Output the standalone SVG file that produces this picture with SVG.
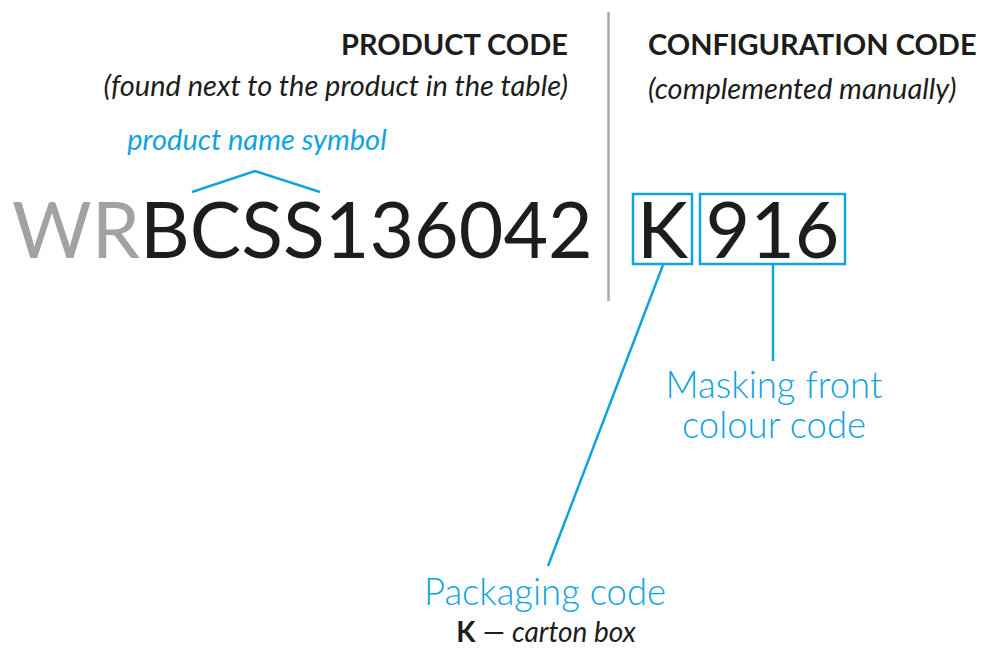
<svg xmlns="http://www.w3.org/2000/svg" width="982" height="649" viewBox="0 0 982 649">
<style>
text{font-family:Lato,"Open Sans","Liberation Sans",sans-serif}
.h{font-weight:700;font-size:29px;fill:#1d1d1b}
.sub{font-style:italic;font-size:29px;fill:#1d1d1b}
.blue{fill:#11a3e0}
.big{font-size:77px;fill:#1d1d1b}
.lbl{font-size:36.5px;font-weight:300;fill:#11a3e0}
.conn{stroke:#11a3e0;stroke-width:2.5;fill:none}
.box{stroke:#11a3e0;stroke-width:2.5;fill:none}
</style>
<rect width="982" height="649" fill="#fff"/>
<line x1="608.5" y1="12" x2="608.5" y2="301" stroke="#a9a9a9" stroke-width="2.5"/>
<g id="product-code-header">
<text class="h" x="568" y="55" text-anchor="end">PRODUCT CODE</text>
<text class="sub" x="568" y="96" text-anchor="end">(found next to the product in the table)</text>
</g>
<g id="configuration-code-header">
<text class="h" x="648" y="55">CONFIGURATION CODE</text>
<text class="sub" x="648" y="99">(complemented manually)</text>
</g>
<g id="product-name-symbol">
<text class="sub blue" x="257" y="150" text-anchor="middle">product name symbol</text>
<polyline class="conn" points="192,192 255,171 320,192"/>
</g>
<g id="product-code">
<text class="big" x="12" y="258"><tspan fill="#a2a2a2">WR</tspan>BCSS136042</text>
</g>
<g id="packaging-box">
<rect class="box" x="633" y="194" width="59" height="70"/>
<text class="big" x="662.5" y="258" text-anchor="middle">K</text>
</g>
<g id="colour-box">
<rect class="box" x="700" y="194" width="145" height="70"/>
<text class="big" x="772.5" y="258" text-anchor="middle">916</text>
</g>
<g id="connectors">
<line class="conn" x1="663" y1="265" x2="548" y2="566"/>
<line class="conn" x1="773" y1="265" x2="773" y2="361"/>
</g>
<g id="masking-label">
<text class="lbl" x="774" y="398" text-anchor="middle">Masking front</text>
<text class="lbl" x="774" y="438" text-anchor="middle">colour code</text>
</g>
<g id="packaging-label">
<text class="lbl" x="545" y="605" text-anchor="middle">Packaging code</text>
<text x="546" y="642" text-anchor="middle" font-size="28" fill="#1d1d1b"><tspan font-weight="700">K</tspan> — <tspan font-style="italic">carton box</tspan></text>
</g>
</svg>
